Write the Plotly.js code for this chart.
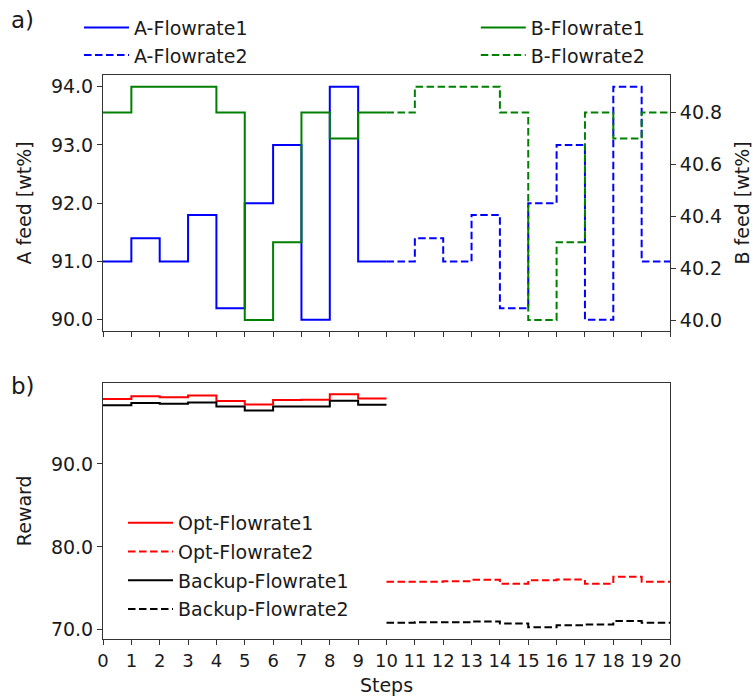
<!DOCTYPE html>
<html>
<head>
<meta charset="utf-8">
<script src="https://cdn.plot.ly/plotly-3.0.1.min.js"></script>
<style>html,body{margin:0;padding:0;background:#fff;}#chart{width:753px;height:700px;}</style>
</head>
<body>
<div id="chart"></div>
<script>
// ---- data ----
const steps1 = [0, 1, 2, 3, 4, 5, 6, 7, 8, 9, 10];
const steps2 = [10, 11, 12, 13, 14, 15, 16, 17, 18, 19, 20];
const aFlowrate1 = [91.0, 91.4, 91.0, 91.8, 90.2, 92.0, 93.0, 90.0, 94.0, 91.0];
const aFlowrate2 = [91.0, 91.4, 91.0, 91.8, 90.2, 92.0, 93.0, 90.0, 94.0, 91.0];
const bFlowrate1 = [40.8, 40.9, 40.9, 40.9, 40.8, 40.0, 40.3, 40.8, 40.7, 40.8];
const bFlowrate2 = [40.8, 40.9, 40.9, 40.9, 40.8, 40.0, 40.3, 40.8, 40.7, 40.8];
const optReward1 = [97.83, 98.19, 98.07, 98.27, 97.59, 97.18, 97.71, 97.75, 98.43, 97.90];
const optReward2 = [75.78, 75.80, 75.86, 76.02, 75.54, 75.98, 76.05, 75.54, 76.39, 75.78];
const backupReward1 = [97.10, 97.35, 97.27, 97.43, 96.95, 96.46, 96.95, 96.95, 97.63, 97.14];
const backupReward2 = [70.84, 70.90, 70.90, 71.00, 70.76, 70.31, 70.55, 70.64, 71.04, 70.84];
const feedTicksA = [90, 91, 92, 93, 94];
const feedTicksB = [40.0, 40.2, 40.4, 40.6, 40.8];
const rewardTicks = [70, 80, 90];
const stepTicks = [0,1,2,3,4,5,6,7,8,9,10,11,12,13,14,15,16,17,18,19,20];

// step values hold over [i, i+1); repeat the last value to close the final step
const hold = v => v.concat([v[v.length - 1]]);

const FONT = 'DejaVu Sans, Arial, sans-serif';
const TXT = '#1a1a1a';
const AX = '#333333';
const DASH = '7.5px,3.5px';

function stepTrace(x, y, name, color, dash, xa, ya, leg, grp) {
  return {
    x: x, y: hold(y), name: name, type: 'scatter', mode: 'lines',
    line: {color: color, width: 2, dash: dash, shape: 'hv'},
    xaxis: xa, yaxis: ya, legend: leg, legendgroup: grp, hoverinfo: 'x+y'
  };
}

const traces = [
  stepTrace(steps1, aFlowrate1, 'A-Flowrate1', '#0000ff', 'solid', 'x', 'y', 'legend', 'a1'),
  stepTrace(steps2, aFlowrate2, 'A-Flowrate2', '#0000ff', DASH, 'x', 'y', 'legend', 'a2'),
  stepTrace(steps1, bFlowrate1, 'B-Flowrate1', '#008000', 'solid', 'x', 'y2', 'legend2', 'b1'),
  stepTrace(steps2, bFlowrate2, 'B-Flowrate2', '#008000', DASH, 'x', 'y2', 'legend2', 'b2'),
  stepTrace(steps1, optReward1, 'Opt-Flowrate1', '#ff0000', 'solid', 'x2', 'y3', 'legend3', 'o1'),
  stepTrace(steps2, optReward2, 'Opt-Flowrate2', '#ff0000', DASH, 'x2', 'y3', 'legend3', 'o2'),
  stepTrace(steps1, backupReward1, 'Backup-Flowrate1', '#000000', 'solid', 'x2', 'y3', 'legend3', 'k1'),
  stepTrace(steps2, backupReward2, 'Backup-Flowrate2', '#000000', DASH, 'x2', 'y3', 'legend3', 'k2')
];

const axisBase = {
  showline: true, linecolor: AX, linewidth: 1,
  ticks: 'outside', ticklen: 5, tickwidth: 1, tickcolor: AX,
  showgrid: false, zeroline: false,
  tickfont: {family: FONT, size: 19, color: TXT}
};

const legBase = {
  bgcolor: 'rgba(0,0,0,0)', borderwidth: 0, itemwidth: 45,
  font: {family: FONT, size: 19, color: TXT},
  xanchor: 'left', yanchor: 'top', tracegroupgap: 0
};

const layout = {
  width: 753, height: 700,
  margin: {l: 103, r: 83, t: 75, b: 60.7, autoexpand: false},
  paper_bgcolor: '#ffffff', plot_bgcolor: '#ffffff',
  font: {family: FONT, size: 19, color: TXT},
  showlegend: true,
  xaxis: Object.assign({}, axisBase, {
    domain: [0, 1], anchor: 'y', range: [0, 20], tickvals: stepTicks,
    showticklabels: false, mirror: true
  }),
  yaxis: Object.assign({}, axisBase, {
    domain: [0.5463, 1], anchor: 'x', range: [89.81, 94.2],
    tickvals: feedTicksA, tickformat: '.1f', mirror: true,
    title: {text: 'A feed [wt%]', font: {family: FONT, size: 19, color: TXT}, standoff: 14}
  }),
  yaxis2: Object.assign({}, axisBase, {
    overlaying: 'y', side: 'right', anchor: 'x', range: [39.958, 40.945],
    tickvals: feedTicksB, tickformat: '.1f',
    title: {text: 'B feed [wt%]', font: {family: FONT, size: 19, color: TXT}, standoff: 14}
  }),
  xaxis2: Object.assign({}, axisBase, {
    domain: [0, 1], anchor: 'y3', range: [0, 20], tickvals: stepTicks,
    tickfont: {family: FONT, size: 18, color: TXT}, mirror: true,
    title: {text: 'Steps', font: {family: FONT, size: 19, color: TXT}, standoff: 9}
  }),
  yaxis3: Object.assign({}, axisBase, {
    domain: [0, 0.4547], anchor: 'x2', range: [68.88, 99.83],
    tickvals: rewardTicks, tickformat: '.1f', mirror: true,
    title: {text: 'Reward', font: {family: FONT, size: 19, color: TXT}, standoff: 14}
  }),
  legend: Object.assign({}, legBase, {x: -0.0423, y: 1.1178}),
  legend2: Object.assign({}, legBase, {x: 0.6575, y: 1.1178}),
  legend3: Object.assign({}, legBase, {x: 0.0353, y: 0.2394, tracegroupgap: 1}),
  annotations: [
    {text: 'a)', xref: 'paper', yref: 'paper', x: -0.165, y: 1.097, xanchor: 'left', yanchor: 'middle',
     showarrow: false, font: {family: FONT, size: 23, color: TXT}},
    {text: 'b)', xref: 'paper', yref: 'paper', x: -0.165, y: 0.4489, xanchor: 'left', yanchor: 'middle',
     showarrow: false, font: {family: FONT, size: 23, color: TXT}}
  ]
};

Plotly.newPlot('chart', traces, layout, {displayModeBar: false, staticPlot: true});
</script>
</body>
</html>
